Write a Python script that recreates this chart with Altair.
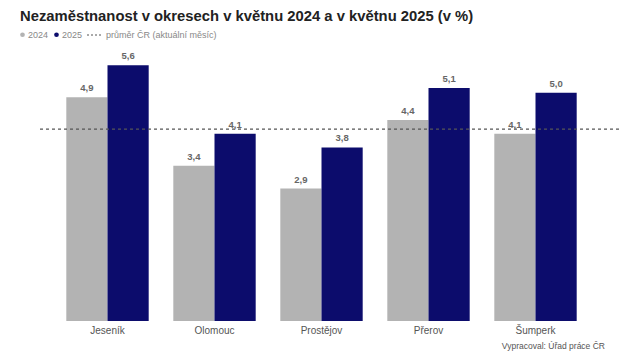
import altair as alt
import pandas as pd

categories = ["Jeseník", "Olomouc", "Prostějov", "Přerov", "Šumperk"]
v2024 = [4.9, 3.4, 2.9, 4.4, 4.1]
v2025 = [5.6, 4.1, 3.8, 5.1, 5.0]
years = ["2024", "2025"]
avg_cr = [4.2]
colors = ["#b3b3b3", "#0c0c6c"]

rows = []
for c, a, b in zip(categories, v2024, v2025):
    rows.append({"okres": c, "rok": "2024", "hodnota": a, "label": f"{a:.1f}".replace(".", ",")})
    rows.append({"okres": c, "rok": "2025", "hodnota": b, "label": f"{b:.1f}".replace(".", ",")})
df = pd.DataFrame(rows)
avg_df = pd.DataFrame({"avg": avg_cr})

W, H = 535, 274
FONT = "Liberation Sans, Arial"

xenc = alt.X("okres:N", sort=categories,
             scale=alt.Scale(paddingInner=0.23, paddingOuter=0.115),
             axis=alt.Axis(title=None, labelAngle=0, domain=False, ticks=False,
                           labelPadding=4, labelFontSize=10, labelColor="#555555",
                           labelFont=FONT))
yenc = alt.Y("hodnota:Q", scale=alt.Scale(domain=[0, 6], nice=False), axis=None)

bars = alt.Chart(df).mark_bar().encode(
    x=xenc,
    xOffset=alt.XOffset("rok:N", sort=years, scale=alt.Scale(paddingInner=0)),
    y=yenc,
    color=alt.Color("rok:N", scale=alt.Scale(domain=years, range=colors),
                    legend=alt.Legend(title=None, orient="none", direction="horizontal",
                                      legendX=-36, legendY=-17, symbolType="circle",
                                      symbolSize=22, labelFontSize=9, labelColor="#888888",
                                      labelFont=FONT, columnPadding=3, labelOffset=1,
                                      symbolStrokeWidth=0)),
)

labels = alt.Chart(df).mark_text(baseline="bottom", dy=-4, fontSize=9.5, fontWeight="bold",
                                 color="#666666", font=FONT).encode(
    x=alt.X("okres:N", sort=categories),
    xOffset=alt.XOffset("rok:N", sort=years),
    y=yenc,
    text="label:N",
)

avg_rule = alt.Chart(avg_df).mark_rule(color="#555555", strokeDash=[3, 3], strokeWidth=1.2).encode(
    y=alt.Y("avg:Q", scale=alt.Scale(domain=[0, 6], nice=False)),
    x=alt.value(-14), x2=alt.value(W + 33),
)

# legend entry for the average line
leg_rule = alt.Chart(avg_df).mark_rule(color="#555555", strokeDash=[2, 2], strokeWidth=1).encode(
    x=alt.value(87 - 54), x2=alt.value(101 - 54), y=alt.value(35 - 47),
)
leg_text = alt.Chart(avg_df).mark_text(align="left", baseline="middle", fontSize=9,
                                       color="#888888", font=FONT).encode(
    x=alt.value(106 - 54), y=alt.value(35 - 47),
    text=alt.value("průměr ČR (aktuální měsíc)"),
)
credit = alt.Chart(avg_df).mark_text(align="right", baseline="middle", fontSize=8.5,
                                     color="#555555", font=FONT).encode(
    x=alt.value(605 - 54), y=alt.value(346 - 47),
    text=alt.value("Vypracoval: Úřad práce ČR"),
)
title = alt.Chart(avg_df).mark_text(align="left", baseline="alphabetic", fontSize=14.8,
                                    fontWeight="bold", color="#222222", font=FONT).encode(
    x=alt.value(20 - 54), y=alt.value(21 - 47),
    text=alt.value("Nezaměstnanost v okresech v květnu 2024 a v květnu 2025 (v %)"),
)

chart = alt.layer(bars, labels, avg_rule, leg_rule, leg_text, credit, title).properties(
    width=W, height=H,
    autosize=alt.AutoSizeParams(type="none"),
    padding={"left": 54, "top": 47, "right": 45, "bottom": 32},
).configure(background="white").configure_view(stroke=None)

chart.save("out.html", embed_options={"renderer": "svg", "actions": False})
